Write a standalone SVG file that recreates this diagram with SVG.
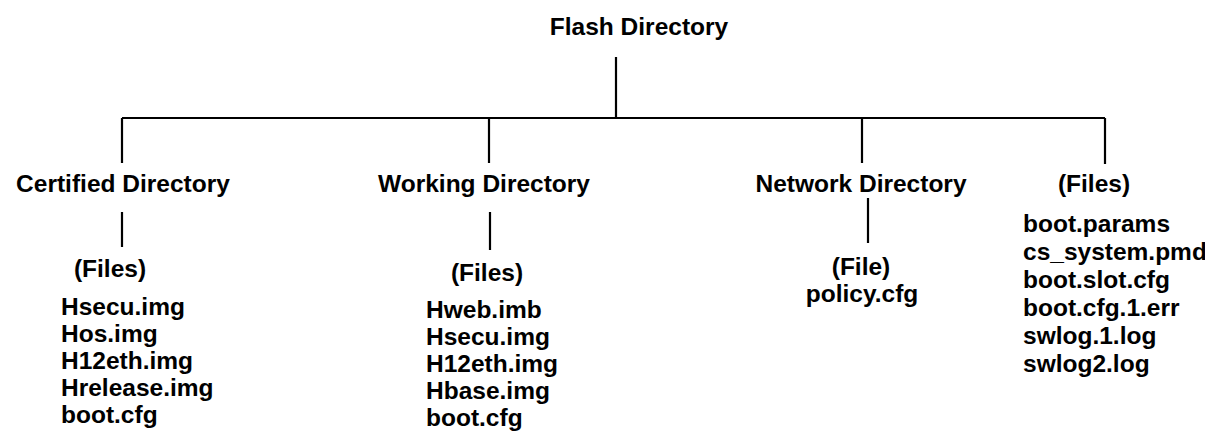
<svg xmlns="http://www.w3.org/2000/svg" width="1205" height="438" viewBox="0 0 1205 438">
<style>
text{font-family:"Liberation Sans",Arial,sans-serif;font-weight:bold;font-size:24.5px;fill:#000}
.m{text-anchor:middle}
.ln{stroke:#000;stroke-width:2.2;fill:none}
</style>
<rect width="1205" height="438" fill="#fff"/>
<g id="connectors" class="ln">
<path d="M616 57V118M122 118H1105M122 118V163M489 118V163M862 118V163M1105 118V164"/>
<path d="M122 212V247M490 212V250M868 198V243"/>
</g>
<g id="flash"><text class="m" x="639" y="35">Flash Directory</text></g>
<g id="certified"><text class="m" x="123" y="192">Certified Directory</text></g>
<g id="working"><text class="m" x="484" y="192">Working Directory</text></g>
<g id="network"><text class="m" x="861" y="192">Network Directory</text></g>
<g id="rootfiles">
<text class="m" x="1094" y="192">(Files)</text>
<text x="1023" y="232">boot.params</text>
<text x="1023" y="260">cs_system.pmd</text>
<text x="1023" y="288">boot.slot.cfg</text>
<text x="1023" y="316">boot.cfg.1.err</text>
<text x="1023" y="344">swlog.1.log</text>
<text x="1023" y="372">swlog2.log</text>
</g>
<g id="certfiles">
<text class="m" x="110" y="277">(Files)</text>
<text x="61" y="315">Hsecu.img</text>
<text x="61" y="342">Hos.img</text>
<text x="61" y="369">H12eth.img</text>
<text x="61" y="396">Hrelease.img</text>
<text x="61" y="423">boot.cfg</text>
</g>
<g id="workfiles">
<text class="m" x="487" y="281">(Files)</text>
<text x="426" y="318">Hweb.imb</text>
<text x="426" y="345">Hsecu.img</text>
<text x="426" y="372">H12eth.img</text>
<text x="426" y="399">Hbase.img</text>
<text x="426" y="426">boot.cfg</text>
</g>
<g id="netfile">
<text class="m" x="861" y="275">(File)</text>
<text class="m" x="862" y="302">policy.cfg</text>
</g>
</svg>
